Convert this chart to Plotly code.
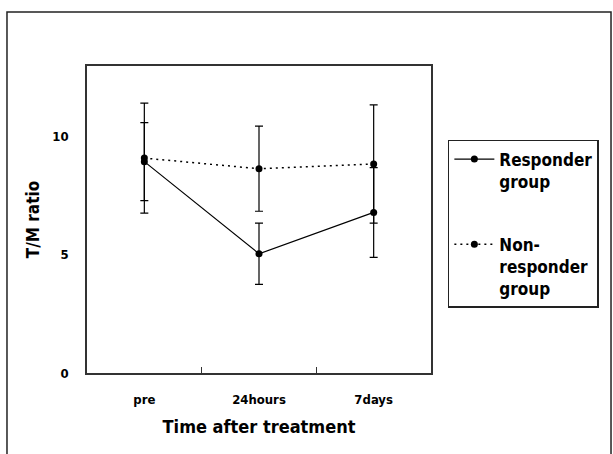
import plotly.graph_objects as go

categories = ["pre", "24hours", "7days"]
responder = [8.95, 5.05, 6.8]
responder_err = [1.65, 1.3, 1.9]
nonresponder = [9.1, 8.65, 8.85]
nonresponder_err = [2.33, 1.8, 2.5]
y_ticks = [0, 5, 10]

FONT = "Liberation Sans Narrow, DejaVu Sans Condensed, Liberation Sans, Arial"

fig = go.Figure()
fig.add_trace(go.Scatter(
    x=categories, y=responder, name="Responder<br>group", mode="lines+markers",
    line=dict(color="black", width=1.2),
    marker=dict(color="black", size=7),
    error_y=dict(type="data", array=responder_err, color="black", thickness=1.2, width=4),
    legendgroup="a",
))
fig.add_trace(go.Scatter(
    x=categories, y=nonresponder, name="Non-<br>responder<br>group", mode="lines+markers",
    line=dict(color="black", width=1.5, dash="2px,4px"),
    marker=dict(color="black", size=7),
    error_y=dict(type="data", array=nonresponder_err, color="black", thickness=1.2, width=4),
    legendgroup="b",
))

fig.update_layout(
    width=613, height=454,
    margin=dict(l=87, r=182, t=66, b=81),
    paper_bgcolor="white", plot_bgcolor="white",
    font=dict(family=FONT, color="black", size=13, weight="bold"),
    showlegend=True,
    legend=dict(
        x=1.049, y=0.759, xanchor="left", yanchor="top",
        bordercolor="#222", borderwidth=1.5, bgcolor="white",
        font=dict(family=FONT, size=17, weight="bold"),
        valign="top", tracegroupgap=38, itemwidth=40,
    ),
    xaxis=dict(
        type="category", range=[-0.5, 2.5], tickson="boundaries",
        ticks="inside", ticklen=6, tickcolor="#333",
        showline=True, mirror=True, linecolor="#333", linewidth=1.5,
        showgrid=False, zeroline=False,
        tickfont=dict(size=13, weight="bold"), ticklabelstandoff=14,
        title=dict(text="Time after treatment", font=dict(size=18, weight="bold"), standoff=14),
    ),
    yaxis=dict(
        range=[0, 13], tickvals=y_ticks, ticks="",
        showline=True, mirror=True, linecolor="#333", linewidth=1.5,
        showgrid=False, zeroline=False,
        tickfont=dict(size=13, weight="bold"), ticklabelstandoff=14,
        title=dict(text="T/M ratio", font=dict(size=17, weight="bold"), standoff=8),
    ),
    shapes=[dict(type="rect", xref="paper", yref="paper",
                 x0=-0.2326, x1=1.5233, y0=-0.3, y1=1.1759,
                 line=dict(color="#222", width=1.5), layer="below")],
)

fig.write_html("out.html")
